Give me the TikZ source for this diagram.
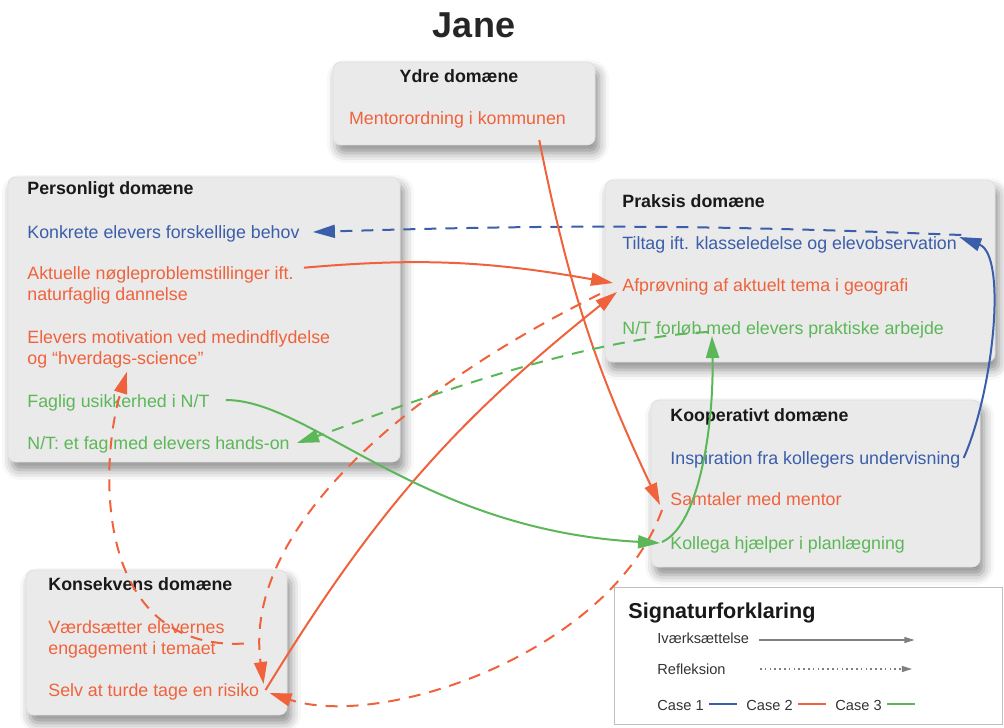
\documentclass[tikz,border=0pt]{standalone}
\usepackage{fontspec}
\setmainfont{Liberation Sans}
\usepackage{tikz}
\usetikzlibrary{arrows.meta, shadows.blur}

\definecolor{caseblue}{RGB}{58,94,170}
\definecolor{caseorange}{RGB}{240,98,60}
\definecolor{casegreen}{RGB}{92,183,88}
\definecolor{boxgray}{RGB}{234,234,234}

\begin{document}
\begin{tikzpicture}[x=0.5pt, y=-0.5pt, >={Triangle[length=11pt,width=6.5pt]},
    dombox/.style={draw=black!12, fill=boxgray, rounded corners=4pt, inner sep=0pt,
      blur shadow={shadow xshift=2pt, shadow yshift=-4pt, shadow blur radius=5pt, shadow opacity=45}},
    legbox/.style={draw=black!25, fill=white, inner sep=0pt, line width=0.5pt},
    head/.style={font=\fontsize{8.9}{10.75}\selectfont\bfseries, text=black!90, inner sep=0pt, anchor=base west},
    item/.style={font=\fontsize{8.9}{10.75}\selectfont, inner sep=0pt, anchor=base west, align=left},
    act/.style={->, line width=1pt},
    refl/.style={->, line width=1pt, dash pattern=on 6pt off 4.5pt},
    legtxt/.style={font=\fontsize{7.3}{9}\selectfont, text=black!80, inner sep=0pt, anchor=base west},
    legline/.style={draw=black!50, line width=0.6pt, -{Triangle[length=5pt,width=3pt]}}]
  \useasboundingbox (0,0) rectangle (1004,727);

  % Boxes
  \node[dombox, minimum width=131pt, minimum height=41.5pt] (ydre) at (464,103.5) {};
  \node[dombox, minimum width=196pt, minimum height=142.5pt] (personlig) at (204,319.5) {};
  \node[dombox, minimum width=195pt, minimum height=91pt] (praksis) at (800,271) {};
  \node[dombox, minimum width=164.5pt, minimum height=83.5pt] (kooper) at (815.5,483.5) {};
  \node[dombox, minimum width=130.5pt, minimum height=72.5pt] (konsekvens) at (156.5,642.5) {};
  \node[legbox, minimum width=194pt, minimum height=68.5pt] (legend) at (808,655.5) {};

  % Title
  \node[font=\fontsize{18}{20}\selectfont\bfseries, text=black!85, inner sep=0pt, anchor=base] (jane) at (474,38) {Jane};

  % Ydre domaene
  \node[head, anchor=base] (ydretitle) at (459,83) {Ydre domæne};
  \node[item, anchor=base, text=caseorange] (mentor) at (457.5,125) {Mentorordning i kommunen};

  % Personligt domaene (two-line items sit on their last line)
  \node[head] (personligtitle) at (27,194) {Personligt domæne};
  \node[item, text=caseblue] (konkrete) at (27,238) {Konkrete elevers forskellige behov};
  \node[item, text=caseorange] (aktuelle) at (27,300.5) {Aktuelle nøgleproblemstillinger ift.\\naturfaglig dannelse};
  \node[item, text=caseorange] (motivation) at (27,364.5) {Elevers motivation ved medindflydelse\\og “hverdags-science”};
  \node[item, text=casegreen] (faglig) at (27,407) {Faglig usikkerhed i N/T};
  \node[item, text=casegreen] (handson) at (27,449) {N/T: et fag med elevers hands-on};

  % Praksis domaene
  \node[head] (praksistitle) at (622,207) {Praksis domæne};
  \node[item, text=caseblue] (tiltag) at (622,249) {Tiltag ift. klasseledelse og elevobservation};
  \node[item, text=caseorange] (afproevning) at (622,291) {Afprøvning af aktuelt tema i geografi};
  \node[item, text=casegreen] (forloeb) at (622,334) {N/T forløb med elevers praktiske arbejde};

  % Kooperativt domaene
  \node[head] (koopertitle) at (670,421) {Kooperativt domæne};
  \node[item, text=caseblue] (inspiration) at (670,464) {Inspiration fra kollegers undervisning};
  \node[item, text=caseorange] (samtaler) at (670,505) {Samtaler med mentor};
  \node[item, text=casegreen] (kollega) at (670,549) {Kollega hjælper i planlægning};

  % Konsekvens domaene
  \node[head] (konsekvenstitle) at (48,590) {Konsekvens domæne};
  \node[item, text=caseorange] (vaerdsaetter) at (48,654.5) {Værdsætter elevernes\\engagement i temaet};
  \node[item, text=caseorange] (risiko) at (48,696) {Selv at turde tage en risiko};

  % Case 1
  \draw[act, caseblue] ([xshift=1.5pt,yshift=3pt]inspiration.base east)
    .. controls +(30,-68) and +(48,18) .. ([xshift=1pt,yshift=6pt]tiltag.base east);
  \draw[refl, caseblue] ([xshift=2pt,yshift=7pt]tiltag.base east)
    to[bend right=2] ([xshift=6.5pt,yshift=3pt]konkrete.base east);

  % Case 2
  \draw[act, caseorange] ([xshift=5pt,yshift=-1pt]aktuelle.north east)
    to[out=5, in=170] ([xshift=-4.5pt,yshift=4pt]afproevning.base west);
  \draw[act, caseorange] ([xshift=-13.5pt,yshift=-7.5pt]mentor.base east)
    to[bend right=7] ([xshift=-5pt]samtaler.base west);
  \draw[act, caseorange] ([xshift=3pt,yshift=3pt]risiko.base east)
    to[bend left=10] ([xshift=-2.5pt,yshift=-0.5pt]afproevning.base west);
  \draw[refl, caseorange] ([xshift=-11pt,yshift=-1.5pt]afproevning.base west)
    .. controls +(-180,88) and +(-22,-160) .. ([xshift=2pt,yshift=6pt]risiko.base east);
  \draw[refl, caseorange] ([xshift=9.5pt,yshift=7.5pt]vaerdsaetter.south east)
    .. controls +(-153,7) and +(-27,88) .. ([xshift=50pt,yshift=-1.5pt]motivation.south west);
  \draw[refl, caseorange] ([xshift=-4pt,yshift=-2.5pt]samtaler.base west)
    .. controls +(-52,143) and +(112,37) .. ([xshift=5pt,yshift=1.5pt]risiko.base east);

  % Case 3
  \draw[act, casegreen] ([xshift=8pt,yshift=3.5pt]faglig.base east)
    .. controls +(85,0) and +(-240,-13) .. ([xshift=-5pt,yshift=3pt]kollega.base west);
  \draw[act, casegreen] ([xshift=-4pt,yshift=3.5pt]kollega.base west)
    .. controls +(38,-17) and +(2,86) .. ([xshift=45pt,yshift=-1pt]forloeb.base west);
  \draw[refl, casegreen] ([xshift=43pt,yshift=1pt]forloeb.base west)
    .. controls +(-140,7) and +(82,-28) .. ([xshift=3.5pt,yshift=3pt]handson.base east);

  % Legend
  \node[font=\fontsize{10.8}{12}\selectfont\bfseries, text=black!90, inner sep=0pt, anchor=base west] (legtitle) at (628,618) {Signaturforklaring};
  \node[legtxt] (ivaerk) at (657,643) {Iværksættelse};
  \node[legtxt] (reflek) at (657,674) {Refleksion};
  \node[legtxt] (case1) at (657,710) {Case 1};
  \node[legtxt] (case2) at (746,710) {Case 2};
  \node[legtxt] (case3) at (835,710) {Case 3};
  \draw[legline] ([xshift=5pt,yshift=1.5pt]ivaerk.base east) -- ++(155,0);
  \draw[legline, dash pattern=on 0.8pt off 1.6pt] ([xshift=17pt,yshift=2.5pt]reflek.base east) -- ++(152,0);
  \draw[caseblue, line width=1pt] ([xshift=2.5pt,yshift=3pt]case1.base east) -- ++(28,0);
  \draw[caseorange, line width=1pt] ([xshift=2.5pt,yshift=3pt]case2.base east) -- ++(28,0);
  \draw[casegreen, line width=1pt] ([xshift=2.5pt,yshift=3pt]case3.base east) -- ++(28,0);
\end{tikzpicture}
\end{document}
